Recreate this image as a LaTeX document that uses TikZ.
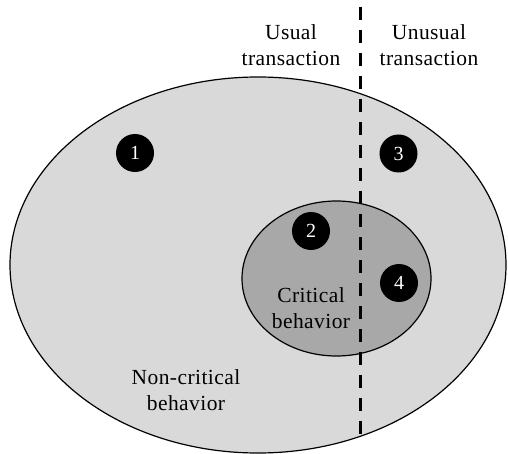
\documentclass[tikz,border=0pt]{standalone}
\usepackage{fontspec}
\setmainfont{Liberation Serif}
\newfontfamily\spacedserif[LetterSpace=2]{Liberation Serif}
\usetikzlibrary{shapes.geometric}
\definecolor{outerfill}{HTML}{D9D9D9}
\definecolor{innerfill}{HTML}{A8A8A8}
\begin{document}
\begin{tikzpicture}[x=1pt,y=-1pt,
  region/.style={ellipse,draw=black,line width=1.2pt,inner sep=0pt},
  marker/.style={circle,fill=black,minimum size=38pt,inner sep=0pt,
    text=white,font=\fontsize{20}{24}\selectfont},
  label/.style={align=center,inner sep=0pt,
    font=\spacedserif\fontsize{21.5}{26}\selectfont},
  divider/.style={line width=3pt,dash pattern=on 13pt off 10pt}]
\useasboundingbox (0,0) rectangle (508,454);
% behaviour regions
\node[region,fill=outerfill,minimum width=496pt,minimum height=376pt] (noncrit) at (258,265) {};
\node[region,fill=innerfill,minimum width=189pt,minimum height=155pt] (crit) at (336.5,278.5) {};
% usual / unusual split
\coordinate (divtop) at (360,7);
\coordinate (divbot) at (360,437);
\draw[divider] (divtop) -- (divbot);
% numbered markers
\node[marker] (m1) at (135,153) {1};
\node[marker] (m2) at (311,231) {2};
\node[marker] (m3) at (398.5,153.5) {3};
\node[marker] (m4) at (399,283) {4};
% texts
\node[label] (usual) at (291,45) {Usual\\transaction};
\node[label] (unusual) at (429,45) {Unusual\\transaction};
\node[label] (crittext) at (311,308) {Critical\\behavior};
\node[label] (noncrittext) at (186,390) {Non-critical\\behavior};
\end{tikzpicture}
\end{document}
